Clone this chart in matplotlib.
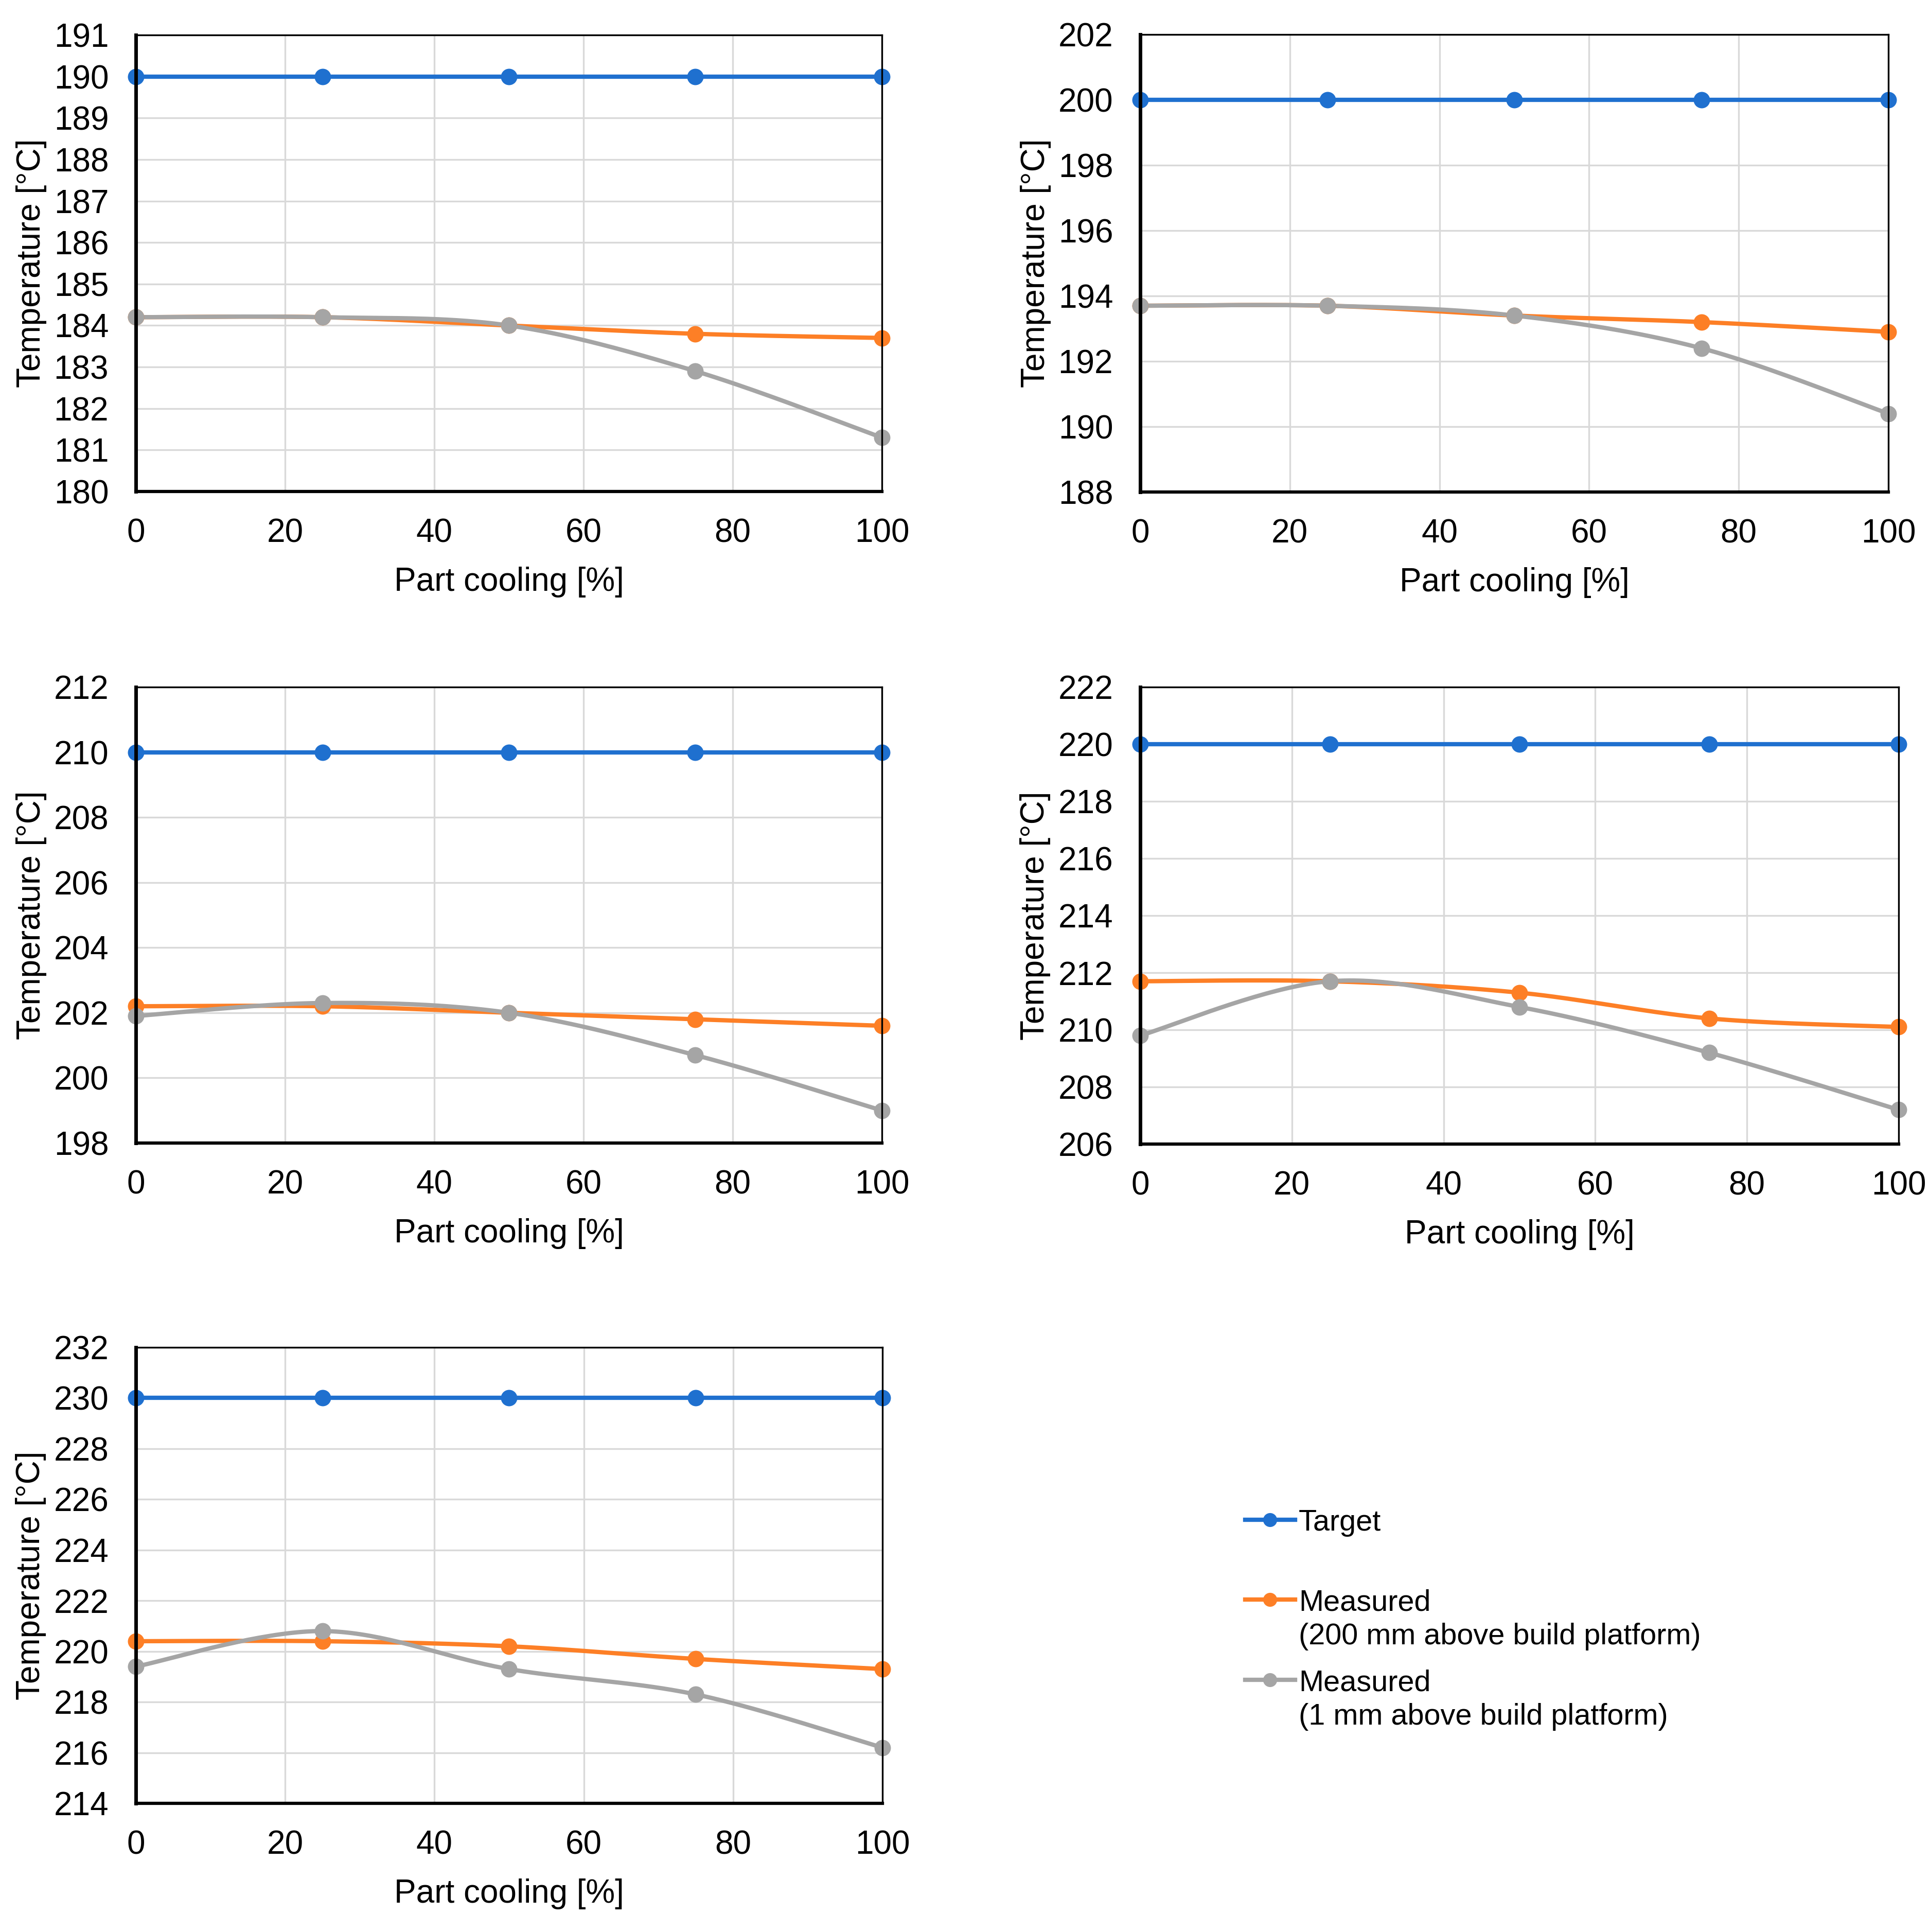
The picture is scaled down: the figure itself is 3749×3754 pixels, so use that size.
import numpy as np
import matplotlib
matplotlib.use("Agg")
import matplotlib.pyplot as plt

plt.rcParams['font.family'] = ['Liberation Sans', 'DejaVu Sans']

# ---------------- data ----------------
part_cooling = [0, 25, 50, 75, 100]
x_ticks = [0, 20, 40, 60, 80, 100]

target_190 = [190, 190, 190, 190, 190]
meas200_190 = [184.2, 184.2, 184.0, 183.8, 183.7]
meas1_190 = [184.2, 184.2, 184.0, 182.9, 181.3]

target_200 = [200, 200, 200, 200, 200]
meas200_200 = [193.7, 193.7, 193.4, 193.2, 192.9]
meas1_200 = [193.7, 193.7, 193.4, 192.4, 190.4]

target_210 = [210, 210, 210, 210, 210]
meas200_210 = [202.2, 202.2, 202.0, 201.8, 201.6]
meas1_210 = [201.9, 202.3, 202.0, 200.7, 199.0]

target_220 = [220, 220, 220, 220, 220]
meas200_220 = [211.7, 211.7, 211.3, 210.4, 210.1]
meas1_220 = [209.8, 211.7, 210.8, 209.2, 207.2]

target_230 = [230, 230, 230, 230, 230]
meas200_230 = [220.4, 220.4, 220.2, 219.7, 219.3]
meas1_230 = [219.4, 220.8, 219.3, 218.3, 216.2]

y_ranges = [(180, 191, 1), (188, 202, 2), (198, 212, 2), (206, 222, 2), (214, 232, 2)]

series_labels = ["Target", "Measured\n(200 mm above build platform)",
                 "Measured\n(1 mm above build platform)"]
colors = ["#1f70cf", "#fd7f26", "#a5a5a5"]

panels = [
    (target_190, meas200_190, meas1_190),
    (target_200, meas200_200, meas1_200),
    (target_210, meas200_210, meas1_210),
    (target_220, meas200_220, meas1_220),
    (target_230, meas200_230, meas1_230),
]

# ---------------- layout (pixels) ----------------
W, H = 3749, 3754
DPI = 100
# left, top, right, bottom in pixels
boxes = [
    (264, 68, 1714, 955),
    (2216, 67, 3670, 956),
    (264, 1335, 1714, 2221),
    (2216, 1335, 3690, 2223),
    (264, 2618, 1715, 3504),
]

FS = 46
FSL = 46
FS_LEG = 41.5
LW = 6
MS = 23


def smooth(xs, ys, n=40):
    """Excel-style smoothed line (Catmull-Rom Bezier through points)."""
    pts = np.column_stack([xs, ys]).astype(float)
    P = np.vstack([pts[0], pts, pts[-1]])
    out = []
    t = np.linspace(0, 1, n)[:, None]
    for i in range(1, len(P) - 2):
        p0, p1, p2, p3 = P[i - 1], P[i], P[i + 1], P[i + 2]
        c1 = p1 + (p2 - p0) / 6.0
        c2 = p2 - (p3 - p1) / 6.0
        seg = (1 - t) ** 3 * p1 + 3 * (1 - t) ** 2 * t * c1 + 3 * (1 - t) * t ** 2 * c2 + t ** 3 * p2
        out.append(seg if i == 1 else seg[1:])
    c = np.vstack(out)
    return c[:, 0], c[:, 1]


fig = plt.figure(figsize=(W / DPI, H / DPI), dpi=DPI)

for (l, t, r, b), data, (ymin, ymax, ystep) in zip(boxes, panels, y_ranges):
    ax = fig.add_axes([l / W, 1 - b / H, (r - l) / W, (b - t) / H])
    for vals, col in zip(data, colors):
        sx, sy = smooth(part_cooling, vals)
        ax.plot(sx, sy, color=col, lw=LW, solid_capstyle='round', zorder=3)
        ax.plot(part_cooling, vals, linestyle='none', marker='o', ms=MS,
                color=col, markeredgewidth=0, clip_on=False, zorder=4)
    ax.set_xlim(0, 100)
    ax.set_ylim(ymin, ymax)
    ax.set_xticks(x_ticks)
    ax.set_yticks(np.arange(ymin, ymax + 0.001, ystep))
    ax.grid(True, color="#d9d9d9", lw=2.4)
    ax.set_axisbelow(True)
    ax.tick_params(axis='both', length=0, labelsize=FS)
    ax.tick_params(axis='y', pad=38)
    ax.tick_params(axis='x', pad=37)
    ax.set_xlabel("Part cooling [%]", fontsize=FSL, labelpad=25)
    ax.set_ylabel("Temperature [°C]", fontsize=FSL, labelpad=10)
    ax.spines['left'].set_linewidth(5)
    ax.spines['bottom'].set_linewidth(4.5)
    ax.spines['top'].set_linewidth(2.4)
    ax.spines['right'].set_linewidth(2.4)
    for s in ax.spines.values():
        s.set_color('black')
        s.set_zorder(5)

# ---------------- legend (drawn in pixel space) ----------------
lax = fig.add_axes([0, 0, 1, 1])
lax.set_xlim(0, W)
lax.set_ylim(H, 0)
lax.axis('off')
entries_y = [2953, 3108, 3264]
for yc, col, lab in zip(entries_y, colors, series_labels):
    lax.plot([2420, 2517], [yc, yc], color=col, lw=LW)
    lax.plot([2468], [yc], marker='o', ms=MS * 0.85, color=col, markeredgewidth=0)
    for k, line in enumerate(lab.split("\n")):
        lax.text(2524, yc + 21 + k * 66, line, fontsize=FS_LEG, va='baseline', ha='left')

fig.savefig("out.png", dpi=DPI)
